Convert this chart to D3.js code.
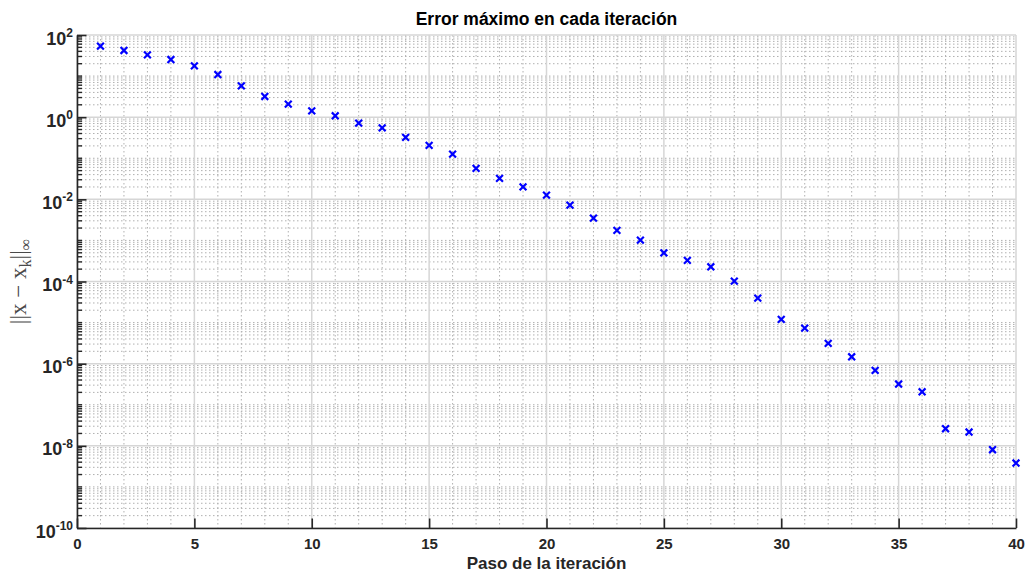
<!DOCTYPE html>
<html>
<head>
<meta charset="utf-8">
<script src="https://cdn.jsdelivr.net/npm/d3@7"></script>
<style>
  html, body { margin: 0; padding: 0; background: #fff; }
  svg { display: block; }
</style>
</head>
<body>
<svg id="chart" width="1029" height="574"></svg>
<script>
// Iteration steps and the maximum error ||x - x_k||_inf at each step
const steps = [1, 2, 3, 4, 5, 6, 7, 8, 9, 10,
               11, 12, 13, 14, 15, 16, 17, 18, 19, 20,
               21, 22, 23, 24, 25, 26, 27, 28, 29, 30,
               31, 32, 33, 34, 35, 36, 37, 38, 39, 40];
const maxError = [53.4, 42.0, 32.8, 25.3, 17.7, 10.9, 5.78, 3.19, 2.07, 1.42,
                  1.08, 0.715, 0.549, 0.321, 0.205, 0.126, 0.0565, 0.0323, 0.0201, 0.0127,
                  0.00722, 0.00349, 0.00175, 0.00102, 4.99e-4, 3.26e-4, 2.28e-4, 1.02e-4, 3.94e-5, 1.2e-5,
                  7.35e-6, 3.12e-6, 1.47e-6, 6.87e-7, 3.19e-7, 2.07e-7, 2.61e-8, 2.17e-8, 8.04e-9, 3.81e-9];

// Axis ticks
const xTicks = [0, 5, 10, 15, 20, 25, 30, 35, 40];
const yTicks = [1e-10, 1e-8, 1e-6, 1e-4, 1e-2, 1e0, 1e2];
const yTickExponents = ["-10", "-8", "-6", "-4", "-2", "0", "2"];

const titleText = "Error máximo en cada iteración";
const xLabelText = "Paso de la iteración";

(function draw() {
  const svg = d3.select("#chart");
  const pLeft = 77, pRight = 1016, pTop = 35, pBottom = 528;

  const x = d3.scaleLinear().domain([0, 40]).range([pLeft, pRight]);
  const y = d3.scaleLog().domain([1e-10, 1e2]).range([pBottom, pTop]);

  const axisColor = "#262626";
  const minorColor = "#b0b0b0";

  // ---- grid ----
  const grid = svg.append("g");

  // minor x grid: every integer step
  const xMinor = d3.range(0, 41).filter(v => v % 5 !== 0);
  grid.selectAll("line.xminor").data(xMinor).join("line")
    .attr("x1", d => x(d)).attr("x2", d => x(d))
    .attr("y1", pTop).attr("y2", pBottom)
    .attr("stroke", minorColor).attr("stroke-width", 1)
    .attr("stroke-dasharray", "1.5,2.5");

  // minor y grid: 2..9 within each decade plus the odd decades
  const yMinor = [];
  for (let k = -10; k < 2; k++) {
    for (let m = 1; m <= 9; m++) {
      if (m === 1 && k % 2 === 0) continue;
      yMinor.push(m * Math.pow(10, k));
    }
  }
  grid.selectAll("line.yminor").data(yMinor).join("line")
    .attr("x1", pLeft).attr("x2", pRight)
    .attr("y1", d => y(d)).attr("y2", d => y(d))
    .attr("stroke", minorColor).attr("stroke-width", 1)
    .attr("stroke-dasharray", "1.5,2.5");

  // major grid
  grid.selectAll("line.xmajor").data(xTicks).join("line")
    .attr("x1", d => x(d)).attr("x2", d => x(d))
    .attr("y1", pTop).attr("y2", pBottom)
    .attr("stroke", "#d6d6d6").attr("stroke-width", 1.5);
  grid.selectAll("line.ymajor").data(yTicks).join("line")
    .attr("x1", pLeft).attr("x2", pRight)
    .attr("y1", d => y(d)).attr("y2", d => y(d))
    .attr("stroke", "#d6d6d6").attr("stroke-width", 1.5);

  // ---- axes ----
  const xAxis = svg.append("g")
    .attr("transform", `translate(0,${pBottom})`)
    .call(d3.axisBottom(x).tickValues(xTicks).tickSizeInner(-9.5).tickSizeOuter(0).tickPadding(10)
          .tickFormat(d3.format("d")));
  xAxis.select(".domain").attr("stroke", axisColor).attr("stroke-width", 1.6);
  xAxis.selectAll(".tick line").attr("stroke", axisColor).attr("stroke-width", 1.6);
  xAxis.selectAll(".tick text")
    .attr("fill", axisColor)
    .style("font-family", "'Liberation Sans', Arial, sans-serif")
    .style("font-size", "15px").style("font-weight", "bold");

  const yAxis = svg.append("g")
    .attr("transform", `translate(${pLeft},0)`)
    .call(d3.axisLeft(y).tickValues(yTicks).tickSizeInner(-9.5).tickSizeOuter(0).tickPadding(4)
          .tickFormat(() => ""));
  yAxis.select(".domain").attr("stroke", axisColor).attr("stroke-width", 1.6);
  yAxis.selectAll(".tick line").attr("stroke", axisColor).attr("stroke-width", 1.6);
  yAxis.selectAll(".tick text")
    .attr("fill", axisColor)
    .attr("dy", "9px")
    .style("font-family", "'Liberation Sans', Arial, sans-serif")
    .style("font-weight", "bold")
    .each(function(d, i) {
      const t = d3.select(this);
      t.append("tspan").style("font-size", "18px").text("10");
      t.append("tspan").style("font-size", "12px").attr("dy", "-7.5px").text(yTickExponents[i]);
    });

  // minor y ticks
  yAxis.append("g").selectAll("line").data(yMinor).join("line")
    .attr("x1", 0).attr("x2", 5)
    .attr("y1", d => y(d)).attr("y2", d => y(d))
    .attr("stroke", axisColor).attr("stroke-width", 1.4);

  // ---- data markers (x) ----
  const half = 3.4;
  svg.append("g").selectAll("path").data(steps).join("path")
    .attr("d", (s, i) => {
      const cx = x(s), cy = y(maxError[i]);
      return `M${cx - half},${cy - half}L${cx + half},${cy + half}M${cx - half},${cy + half}L${cx + half},${cy - half}`;
    })
    .attr("stroke", "#0000ff").attr("stroke-width", 2.2).attr("fill", "none");

  // ---- title and labels ----
  svg.append("text")
    .attr("x", (pLeft + pRight) / 2).attr("y", 25)
    .attr("text-anchor", "middle")
    .style("font-family", "'Liberation Sans', Arial, sans-serif")
    .style("font-size", "17.5px").style("font-weight", "bold")
    .attr("fill", "#000")
    .text(titleText);

  svg.append("text")
    .attr("x", (pLeft + pRight) / 2).attr("y", 569)
    .attr("text-anchor", "middle")
    .style("font-family", "'Liberation Sans', Arial, sans-serif")
    .style("font-size", "17px").style("font-weight", "bold")
    .attr("fill", axisColor)
    .text(xLabelText);

  const yl = svg.append("text")
    .attr("transform", `translate(26,${(pTop + pBottom) / 2}) rotate(-90)`)
    .attr("text-anchor", "middle")
    .style("font-family", "'Liberation Serif', 'DejaVu Serif', serif")
    .style("font-size", "23px")
    .attr("fill", "#4a4a4a");
  yl.append("tspan").text("||x − x");
  yl.append("tspan").attr("dy", "5px").style("font-size", "16px").text("k");
  yl.append("tspan").attr("dy", "-5px").text("||");
  yl.append("tspan").attr("dy", "5px").style("font-size", "16px").text("∞");
})();
</script>
</body>
</html>
